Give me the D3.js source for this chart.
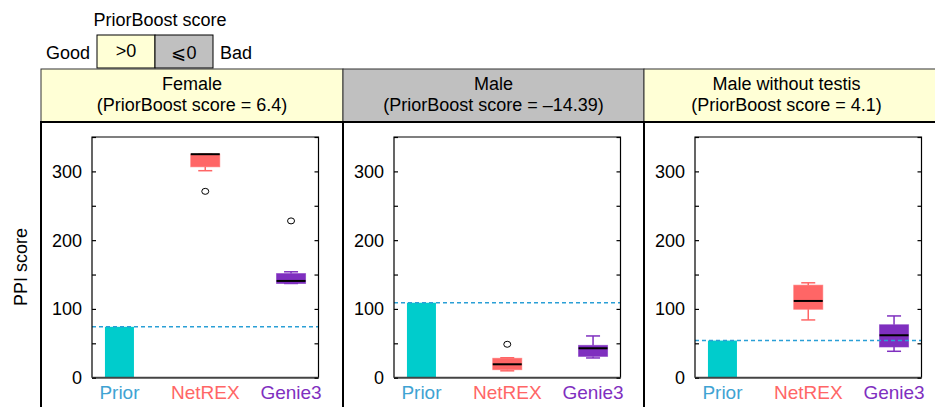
<!DOCTYPE html>
<html>
<head>
<meta charset="utf-8">
<script src="https://cdn.jsdelivr.net/npm/d3@7"></script>
<style>
  body { margin: 0; background: #fff; }
  svg { font-family: "Liberation Sans", Arial, sans-serif; }
</style>
</head>
<body>
<div id="chart"></div>
<script>
// data
const panelNames = ["Female", "Male", "Male without testis"];
const boostScores = [6.4, -14.39, 4.1];
const methods = ["Prior", "NetREX", "Genie3"];
const priorValues = [74, 109, 54];
// [min, q1, median, q3, max]
const netrexBoxes = [[301, 306.7, 325, 325, 325], [10, 11.7, 19.5, 28.2, 29], [84, 99.5, 111.6, 134.5, 138]];
const netrexOutliers = [[271], [48.6], []];
const genieBoxes = [[137, 137, 140.7, 151.4, 154], [28.7, 31, 42.8, 47, 60.7], [38.4, 44.7, 61.7, 77, 89.8]];
const genieOutliers = [[228], [], []];
const yTicks = [0, 100, 200, 300];

const colors = {Prior: "#00cccc", NetREX: "#ff6666", Genie3: "#7f2fbf"};
const labelColors = {Prior: "#3fa3d3", NetREX: "#ff6666", Genie3: "#7f2fbf"};

const W = 935, H = 407;
const svg = d3.select("#chart").append("svg")
    .attr("width", W)
    .attr("height", H);

function label(sel, x, y, txt, size, anchor, color) {
  return sel.append("text")
      .attr("x", x).attr("y", y)
      .attr("text-anchor", anchor || "start")
      .attr("fill", color || "#000")
      .style("font-size", size + "px")
      .text(txt);
}

// legend
label(svg, 160, 26, "PriorBoost score", 18, "middle");
svg.append("rect").attr("x", 97).attr("y", 35).attr("width", 58).attr("height", 33)
    .attr("fill", "#ffffd6").attr("stroke", "#000").attr("stroke-width", 1);
svg.append("rect").attr("x", 155).attr("y", 35).attr("width", 58).attr("height", 33)
    .attr("fill", "#c0c0c0").attr("stroke", "#000").attr("stroke-width", 1);
label(svg, 126, 57, ">0", 18, "middle");
label(svg, 184, 59, "⩽0", 18, "middle");
label(svg, 90, 59, "Good", 18, "end");
label(svg, 220, 59, "Bad", 18);

// y axis title
svg.append("text")
    .attr("transform", "translate(27,267) rotate(-90)")
    .attr("text-anchor", "middle")
    .style("font-size", "18px")
    .text("PPI score");

const panelLeft = [41, 343, 644];
const panelRight = [343, 644, 940];
const headTop = 69, headBottom = 122;

const y = d3.scaleLinear().domain([0, 350]).range([377.7, 137]);

panelNames.forEach((name, p) => {
  const x0 = panelLeft[p], x1 = panelRight[p];
  const good = boostScores[p] > 0;

  // header
  svg.append("rect")
      .attr("x", x0).attr("y", headTop)
      .attr("width", x1 - x0).attr("height", headBottom - headTop)
      .attr("fill", good ? "#ffffd6" : "#c0c0c0")
      .attr("stroke", "#333").attr("stroke-width", 1);
  const cxHead = (x0 + Math.min(x1, 935)) / 2 - (p === 2 ? 3 : 0);
  label(svg, cxHead, 90, name, 18, "middle");
  const s = boostScores[p] < 0 ? "\u2013" + Math.abs(boostScores[p]) : boostScores[p];
  label(svg, cxHead, 111, `(PriorBoost score = ${s})`, 18, "middle");

  // body frame
  svg.append("rect")
      .attr("x", x0).attr("y", headBottom)
      .attr("width", x1 - x0).attr("height", H - headBottom + 10)
      .attr("fill", "none")
      .attr("stroke", "#000").attr("stroke-width", 2);

  const left = x0 + 51, right = left + 226.5;
  const x = d3.scalePoint().domain(methods).range([left, right]).padding(0.32);
  const g = svg.append("g");

  // prior bar
  const bw = 29;
  g.append("rect")
      .attr("x", x("Prior") - bw / 2).attr("y", y(priorValues[p]))
      .attr("width", bw).attr("height", y(0) - y(priorValues[p]))
      .attr("fill", colors.Prior);

  // boxes
  const boxes = [["NetREX", netrexBoxes[p], netrexOutliers[p]], ["Genie3", genieBoxes[p], genieOutliers[p]]];
  boxes.forEach(([m, st, outl]) => {
    const cx = x(m);
    const c = colors[m];
    const [mn, q1, med, q3, mx] = st;
    g.append("line").attr("x1", cx).attr("x2", cx).attr("y1", y(mx)).attr("y2", y(q3))
        .attr("stroke", c).attr("stroke-width", 1.5);
    g.append("line").attr("x1", cx).attr("x2", cx).attr("y1", y(q1)).attr("y2", y(mn))
        .attr("stroke", c).attr("stroke-width", 1.5);
    g.append("line").attr("x1", cx - 7).attr("x2", cx + 7).attr("y1", y(mx)).attr("y2", y(mx))
        .attr("stroke", c).attr("stroke-width", 1.5);
    g.append("line").attr("x1", cx - 7).attr("x2", cx + 7).attr("y1", y(mn)).attr("y2", y(mn))
        .attr("stroke", c).attr("stroke-width", 1.5);
    g.append("rect")
        .attr("x", cx - bw / 2).attr("y", y(q3))
        .attr("width", bw).attr("height", Math.max(1, y(q1) - y(q3)))
        .attr("fill", c).attr("stroke", c).attr("stroke-opacity", 0.6).attr("stroke-width", 1);
    g.append("line").attr("x1", cx - bw / 2).attr("x2", cx + bw / 2).attr("y1", y(med)).attr("y2", y(med))
        .attr("stroke", "#000").attr("stroke-width", 2);
    outl.forEach((o) => {
      g.append("ellipse").attr("cx", cx).attr("cy", y(o)).attr("rx", 3.5).attr("ry", 3)
          .attr("fill", "none").attr("stroke", "#000").attr("stroke-width", 1);
    });
  });

  // prior reference line
  g.append("line")
      .attr("x1", left).attr("x2", right)
      .attr("y1", y(priorValues[p])).attr("y2", y(priorValues[p]))
      .attr("stroke", "#2a9fd6").attr("stroke-width", 1.5)
      .attr("stroke-dasharray", "4,3");

  // frame + axes
  g.append("path")
      .attr("d", `M${left},${y(0)}V${y(350)}H${right}V${y(0)}`)
      .attr("fill", "none").attr("stroke", "#000").attr("stroke-width", 1.2);
  g.append("line").attr("x1", left).attr("x2", right).attr("y1", y(0)).attr("y2", y(0))
      .attr("stroke", "#444").attr("stroke-width", 2);

  const minor = d3.range(0, 351, 50);
  const ya = g.append("g").attr("transform", `translate(${left},0)`)
      .call(d3.axisRight(y).tickValues(minor).tickSize(4).tickFormat(""));
  ya.select(".domain").remove();
  const yb = g.append("g").attr("transform", `translate(${right},0)`)
      .call(d3.axisLeft(y).tickValues(minor).tickSize(4).tickFormat(""));
  yb.select(".domain").remove();
  [ya, yb].forEach((a) => a.selectAll("line").attr("stroke", "#000").attr("stroke-width", 1.2));

  yTicks.forEach((t) => label(g, left - 10, y(t) + 6.5, t, 18, "end"));

  methods.forEach((m) => label(g, x(m), 399, m, 19, "middle", labelColors[m]));
});
</script>
</body>
</html>
